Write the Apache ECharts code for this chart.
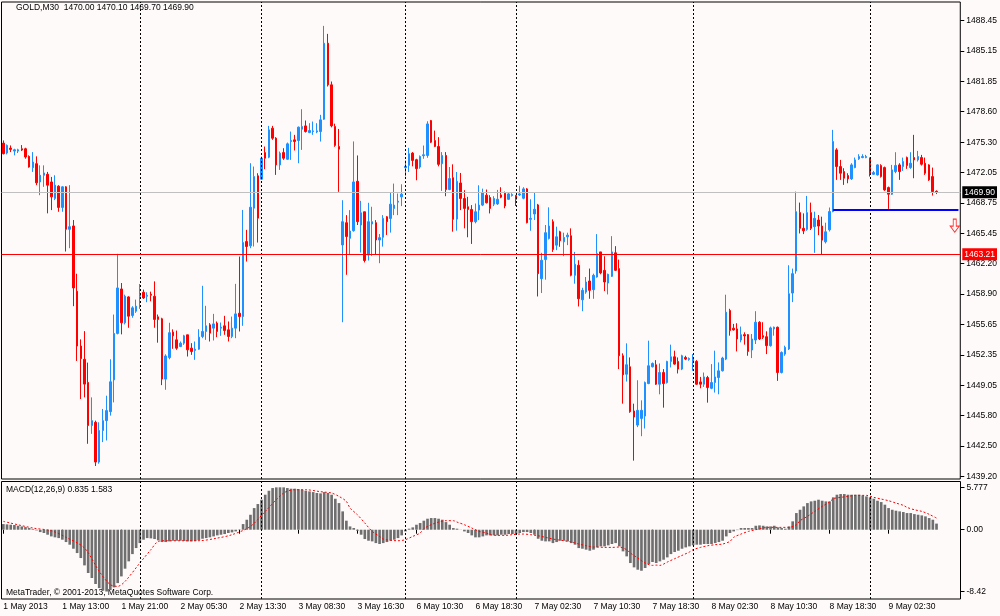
<!DOCTYPE html>
<html>
<head>
<meta charset="utf-8">
<title>GOLD,M30</title>
<script src="https://cdn.jsdelivr.net/npm/echarts@6/dist/echarts.min.js"></script>
<style>
  html, body { margin: 0; padding: 0; background: #fffafa; }
  #chart { width: 1000px; height: 616px; }
</style>
</head>
<body>
<div id="chart"></div>
<script>
// --- data (bar index 0 = first visible M30 bar) ---
const opens = [
  1475.20,1474.13,1474.66,1474.34,1474.34,1474.59,1474.59,1473.77,1472.55,1472.98,
  1471.01,1471.73,1471.84,1471.01,1469.23,1470.55,1468.26,1470.48,1465.90,1466.26,
  1459.21,1453.30,1451.87,1449.37,1444.72,1445.07,1440.78,1444.18,1445.25,1446.22,
  1449.65,1454.66,1459.46,1455.81,1458.60,1456.60,1457.06,1458.67,1459.10,1458.67,
  1458.89,1458.67,1456.45,1456.24,1449.73,1452.05,1454.80,1453.97,1453.25,1453.61,
  1454.51,1453.07,1452.82,1452.96,1454.33,1454.87,1455.59,1455.23,1455.77,1455.23,
  1455.48,1455.05,1454.33,1455.23,1456.84,1456.48,1464.58,1464.11,1468.18,1471.67,
  1471.31,1474.18,1473.68,1476.81,1475.73,1472.85,1474.18,1473.46,1475.37,1475.55,
  1475.48,1476.70,1477.06,1476.34,1476.45,1476.41,1476.45,1477.78,1485.98,1481.49,
  1477.00,1474.84,1464.21,1466.61,1464.93,1465.75,1471.08,1466.36,1467.79,1463.14,
  1466.47,1466.61,1464.75,1465.04,1467.25,1467.07,1468.15,1468.83,1469.40,1472.55,
  1472.80,1474.12,1473.41,1472.62,1473.84,1473.87,1477.63,1475.48,1474.84,1472.98,
  1473.87,1470.19,1471.47,1467.00,1470.90,1469.22,1468.33,1468.04,1466.72,1467.97,
  1468.51,1469.58,1469.33,1468.61,1468.64,1469.61,1469.79,1469.14,1469.54,1469.54,
  1469.61,1469.25,1470.26,1466.97,1467.55,1468.53,1460.57,1462.63,1464.91,1466.72,
  1464.19,1465.63,1464.55,1465.09,1465.20,1460.93,1462.02,1458.29,1459.12,1460.32,
  1459.38,1460.75,1463.46,1461.47,1460.10,1460.82,1463.36,1461.66,1452.25,1450.26,
  1451.06,1446.29,1444.77,1445.49,1445.74,1449.25,1451.06,1451.28,1449.18,1450.44,
  1449.36,1451.64,1452.14,1451.64,1450.81,1452.07,1451.85,1451.64,1451.64,1449.43,
  1449.18,1449.90,1448.74,1449.36,1449.90,1450.63,1451.89,1457.13,1455.22,1455.15,
  1453.95,1454.53,1454.53,1452.87,1453.95,1455.87,1454.42,1454.31,1453.34,1455.15,
  1455.33,1450.44,1452.43,1452.98,1459.02,1461.40,1467.70,1466.00,1465.89,1467.70,
  1466.18,1466.90,1466.25,1464.55,1465.84,1467.81,1474.47,1472.67,1472.13,1471.70,
  1471.34,1472.56,1473.50,1473.64,1473.64,1473.57,1471.84,1471.77,1472.78,1472.56,
  1470.40,1469.68,1472.13,1472.85,1472.67,1473.64,1472.56,1473.64,1473.39,1473.64,
  1473.03,1472.85,1471.59,1470.00
];
const highs = [
  1475.49,1475.06,1474.95,1474.59,1474.59,1474.99,1474.70,1473.88,1474.23,1473.77,
  1472.80,1472.80,1472.09,1471.55,1471.73,1470.66,1470.55,1470.55,1470.66,1466.90,
  1461.10,1454.02,1454.91,1451.51,1447.76,1445.25,1445.07,1446.51,1447.94,1451.87,
  1456.70,1463.25,1460.10,1458.85,1458.67,1457.60,1458.31,1460.00,1459.39,1459.10,
  1459.17,1460.28,1456.70,1456.35,1452.41,1455.81,1455.10,1454.97,1453.79,1454.51,
  1454.51,1453.61,1453.79,1455.12,1459.80,1457.64,1455.77,1456.77,1455.95,1455.84,
  1456.56,1455.95,1456.48,1460.01,1462.96,1467.99,1465.84,1473.03,1472.67,1471.95,
  1473.75,1474.83,1477.06,1477.06,1475.84,1474.29,1474.65,1475.26,1476.45,1476.09,
  1476.99,1478.86,1477.64,1477.35,1477.53,1477.35,1478.25,1487.85,1486.99,1481.85,
  1477.30,1476.73,1469.04,1467.43,1467.97,1475.38,1473.87,1468.97,1467.79,1468.76,
  1468.33,1466.89,1465.39,1467.43,1467.32,1469.83,1470.83,1469.76,1470.76,1473.33,
  1474.69,1474.23,1473.51,1473.87,1474.94,1477.56,1477.70,1476.55,1475.84,1474.23,
  1474.23,1472.62,1472.91,1472.08,1471.98,1470.12,1469.40,1468.51,1468.68,1470.65,
  1470.29,1470.19,1469.58,1469.47,1470.15,1470.44,1469.97,1469.87,1469.79,1469.61,
  1470.59,1470.44,1470.34,1469.14,1469.90,1468.64,1463.36,1466.36,1468.27,1466.97,
  1466.18,1465.74,1465.53,1465.53,1466.00,1463.46,1462.56,1459.59,1460.75,1461.66,
  1461.11,1465.38,1463.46,1462.99,1461.11,1465.16,1464.08,1462.63,1452.51,1453.59,
  1452.07,1447.08,1449.61,1447.44,1449.47,1453.88,1451.53,1451.78,1451.42,1450.81,
  1451.71,1453.45,1452.80,1452.07,1452.36,1452.25,1452.07,1452.43,1451.78,1449.97,
  1450.44,1450.08,1451.35,1452.80,1451.53,1452.14,1458.84,1457.32,1455.69,1455.76,
  1455.40,1454.78,1454.60,1454.60,1457.06,1455.98,1455.87,1454.89,1455.40,1455.40,
  1455.40,1452.72,1453.34,1462.02,1461.66,1469.97,1468.78,1467.62,1469.50,1468.78,
  1467.80,1467.44,1467.26,1466.61,1468.25,1476.63,1474.65,1473.39,1472.49,1471.95,
  1473.03,1473.64,1474.00,1474.00,1473.93,1473.64,1472.20,1472.92,1472.92,1472.67,
  1470.51,1472.85,1474.22,1473.03,1473.64,1473.75,1474.22,1476.09,1474.36,1473.93,
  1473.64,1472.92,1472.56,1470.10
];
const lows = [
  1473.98,1473.98,1474.23,1473.88,1474.13,1474.34,1473.52,1472.55,1472.09,1470.66,
  1469.58,1470.48,1467.62,1467.97,1469.05,1467.79,1467.79,1463.50,1463.86,1457.60,
  1451.69,1447.58,1447.76,1442.75,1443.82,1440.35,1440.60,1442.93,1443.11,1445.79,
  1447.22,1454.56,1454.56,1455.63,1455.27,1456.35,1456.88,1457.31,1458.38,1458.03,
  1458.13,1455.27,1453.66,1449.08,1448.58,1451.87,1453.00,1452.89,1453.18,1453.43,
  1452.17,1452.35,1451.81,1452.89,1454.15,1453.97,1453.79,1453.90,1454.26,1454.40,
  1454.51,1453.79,1454.15,1454.15,1454.87,1455.48,1462.42,1463.86,1464.04,1464.47,
  1471.23,1472.38,1473.57,1475.55,1471.77,1472.31,1473.39,1473.39,1473.39,1474.40,
  1473.03,1474.47,1476.34,1476.27,1476.09,1476.27,1475.37,1477.71,1481.31,1476.90,
  1474.80,1469.94,1455.87,1460.99,1463.14,1465.64,1466.36,1463.39,1462.32,1462.53,
  1463.03,1463.14,1462.24,1464.03,1465.29,1465.54,1467.43,1467.43,1468.40,1471.62,
  1472.08,1472.69,1471.19,1472.44,1473.51,1473.62,1475.20,1474.77,1472.69,1470.04,
  1469.47,1470.12,1465.64,1465.75,1467.97,1466.00,1465.04,1464.32,1466.54,1466.89,
  1468.40,1468.69,1467.61,1468.40,1468.53,1469.25,1468.17,1469.07,1469.43,1468.42,
  1469.50,1469.14,1466.54,1465.74,1466.90,1458.65,1459.02,1460.46,1464.80,1463.46,
  1463.65,1464.01,1463.00,1464.19,1460.82,1460.03,1457.57,1457.06,1458.94,1458.40,
  1458.40,1460.68,1461.04,1459.23,1458.87,1460.75,1461.40,1450.81,1447.08,1449.47,
  1446.10,1440.93,1444.55,1443.57,1444.40,1449.18,1450.99,1449.11,1448.09,1446.65,
  1449.25,1450.99,1451.28,1450.34,1450.70,1451.78,1451.71,1450.63,1449.11,1448.74,
  1448.89,1447.19,1448.64,1448.28,1448.09,1450.55,1451.78,1454.42,1454.97,1452.72,
  1453.70,1453.45,1452.25,1452.00,1453.52,1453.95,1454.06,1452.43,1453.23,1454.42,
  1449.54,1450.34,1452.25,1452.87,1458.04,1461.11,1465.45,1465.38,1465.74,1465.82,
  1463.36,1465.27,1463.21,1464.37,1465.66,1467.74,1471.23,1471.23,1470.69,1470.87,
  1471.23,1472.49,1473.39,1473.57,1473.57,1471.59,1471.77,1471.70,1471.48,1470.05,
  1468.10,1469.61,1471.95,1471.23,1472.20,1472.42,1472.42,1471.41,1473.21,1472.78,
  1471.77,1471.12,1469.54,1469.70
];
const closes = [
  1474.06,1474.95,1474.52,1474.48,1474.48,1474.45,1473.70,1472.62,1473.16,1470.91,
  1471.73,1471.98,1470.66,1469.40,1470.66,1468.26,1470.48,1465.90,1466.18,1459.57,
  1453.30,1451.94,1449.19,1444.72,1445.25,1440.78,1444.18,1445.25,1446.33,1449.44,
  1454.66,1459.57,1455.81,1458.67,1456.52,1457.42,1457.60,1458.85,1458.49,1458.78,
  1458.78,1456.17,1456.17,1449.73,1452.23,1454.74,1454.40,1453.07,1453.61,1454.40,
  1452.89,1452.71,1452.96,1454.26,1454.87,1455.48,1454.69,1455.69,1454.87,1455.33,
  1454.97,1454.33,1455.23,1456.77,1456.48,1464.47,1464.04,1468.28,1471.59,1467.10,
  1473.57,1473.57,1476.63,1475.73,1472.85,1474.11,1473.57,1475.12,1475.48,1475.37,
  1476.92,1476.99,1476.45,1476.56,1476.52,1476.52,1477.71,1485.98,1481.49,1477.06,
  1474.95,1474.55,1466.72,1465.11,1465.71,1471.01,1466.72,1467.68,1462.53,1466.72,
  1466.72,1464.75,1465.00,1467.07,1466.72,1468.61,1468.51,1468.93,1469.69,1472.69,
  1474.05,1473.33,1472.44,1473.76,1473.94,1477.27,1475.30,1474.84,1472.91,1473.87,
  1470.19,1471.37,1466.97,1471.08,1469.22,1468.15,1468.04,1466.72,1467.79,1468.51,
  1469.83,1468.76,1468.15,1469.22,1469.14,1469.36,1468.42,1469.72,1469.65,1469.14,
  1469.72,1470.26,1466.61,1467.08,1468.06,1461.11,1462.56,1465.53,1466.25,1463.72,
  1465.09,1464.66,1465.02,1465.27,1460.93,1462.13,1458.40,1459.31,1460.21,1459.31,
  1460.93,1463.28,1461.19,1460.21,1461.04,1463.46,1461.47,1452.25,1450.19,1451.28,
  1446.21,1445.64,1446.36,1446.36,1449.36,1451.17,1451.42,1449.18,1450.44,1449.25,
  1451.64,1452.14,1451.35,1450.81,1452.25,1451.89,1451.96,1451.89,1449.18,1449.18,
  1449.97,1448.82,1449.36,1449.97,1450.62,1452.00,1456.95,1454.97,1455.04,1454.06,
  1454.53,1454.39,1452.72,1454.06,1455.87,1454.06,1454.24,1453.34,1455.26,1455.33,
  1450.44,1452.61,1453.16,1458.94,1461.11,1467.80,1466.00,1465.74,1467.70,1466.00,
  1467.08,1466.25,1464.73,1465.63,1467.81,1475.37,1472.67,1471.95,1471.41,1471.34,
  1472.85,1473.39,1473.75,1473.75,1473.75,1471.95,1472.02,1472.85,1471.59,1470.15,
  1469.68,1472.31,1472.78,1472.13,1473.21,1472.78,1473.03,1473.39,1473.75,1472.92,
  1471.95,1471.23,1469.97,1469.90
];

// MACD(12,26,9) main histogram, one value per bar
const macdMain = [
  0.77,0.73,0.68,0.64,0.54,0.45,0.36,0.23,0.09,-0.09,
  -0.32,-0.45,-0.68,-0.91,-1.04,-1.14,-1.36,-1.68,-2.04,-2.59,
  -3.18,-3.86,-4.86,-5.90,-6.58,-7.40,-7.95,-8.31,-8.42,-8.22,
  -7.86,-7.27,-6.36,-5.31,-4.31,-3.32,-2.50,-1.82,-1.36,-1.14,
  -1.18,-1.27,-1.45,-1.68,-1.68,-1.59,-1.50,-1.50,-1.50,-1.55,
  -1.59,-1.59,-1.55,-1.45,-1.23,-1.14,-1.04,-0.91,-0.77,-0.68,
  -0.59,-0.45,-0.36,-0.23,-0.05,0.77,1.36,2.04,2.95,3.50,
  4.09,4.77,5.31,5.68,5.77,5.777,5.77,5.68,5.59,5.59,
  5.54,5.45,5.31,5.22,5.13,5.00,4.95,5.13,5.00,4.77,
  4.22,3.63,2.50,1.23,0.45,0.23,-0.14,-0.68,-1.27,-1.50,
  -1.59,-1.82,-1.95,-1.82,-1.68,-1.50,-1.36,-1.14,-0.77,-0.23,
  0.14,0.32,0.68,0.91,1.23,1.50,1.59,1.59,1.50,1.36,
  1.04,0.68,0.23,0.14,0.02,-0.23,-0.45,-0.77,-1.04,-1.04,
  -0.91,-0.77,-0.77,-0.77,-0.77,-0.68,-0.68,-0.59,-0.59,-0.59,
  -0.45,-0.32,-0.32,-0.45,-0.68,-1.23,-1.50,-1.59,-1.59,-1.82,
  -1.68,-1.50,-1.50,-1.59,-1.82,-2.04,-2.50,-2.59,-2.72,-2.86,
  -2.72,-2.41,-2.27,-2.27,-2.13,-1.95,-1.82,-2.27,-2.95,-3.63,
  -4.54,-5.13,-5.45,-5.59,-5.22,-4.68,-4.40,-4.54,-4.31,-4.09,
  -3.77,-3.32,-3.04,-2.86,-2.59,-2.41,-2.27,-2.13,-2.04,-2.04,
  -1.95,-1.95,-1.95,-1.82,-1.68,-1.50,-0.91,-0.45,-0.23,-0.05,
  0.23,0.23,0.23,0.23,0.54,0.59,0.54,0.45,0.45,0.54,
  0.32,0.23,0.14,0.45,1.14,2.27,2.72,3.18,3.63,3.86,
  3.95,4.09,3.95,3.86,3.86,4.41,4.77,4.86,4.86,4.77,
  4.77,4.77,4.77,4.68,4.54,4.41,4.22,3.95,3.77,3.41,
  2.95,2.72,2.59,2.50,2.41,2.27,2.27,2.13,2.04,1.95,
  1.82,1.59,1.36,0.835
];

// signal line, read at the bars where it could be made out
const signalAt = [
  0,8,13,17,22,26,29,31,33,37,40,42,44,49,53,58,62,67,71,76,79,82,86,
  87,89,91,93,94,96,98,100,102,103,105,107,109,111,113,114,116,118,120,122,
  123,125,127,129,131,132,134,136,138,140,141,143,145,147,149,150,152,154,156,
  158,160,161,163,165,167,169,170,172,174,176,177,178,180,182,184,186,187,189,
  191,193,195,197,198,200,202,204,206,207,209,211,213,215,216,218,220,222,224,
  225,227,229,231,233,234,236,238,240,242,244,245,247,249,251,253
];
const signalVal = [
  1.14,0.23,-0.14,-1.04,-2.50,-5.68,-7.49,-7.72,-7.04,-4.54,-2.72,-1.59,-1.50,-1.50,-1.50,-1.14,-0.68,0.45,2.50,5.00,5.45,5.45,5.18,
  5.13,5.00,4.54,3.86,2.95,2.04,0.91,-0.23,-0.91,-1.27,-1.45,-1.50,-1.36,-0.91,-0.45,0.14,0.68,1.04,1.23,1.23,
  1.04,0.68,0.23,-0.23,-0.45,-0.68,-0.77,-0.77,-0.68,-0.59,-0.59,-0.68,-0.82,-1.04,-1.27,-1.36,-1.50,-1.68,-1.95,
  -2.18,-2.36,-2.36,-2.41,-2.41,-2.36,-2.72,-3.18,-3.86,-4.54,-4.86,-4.82,-4.86,-4.41,-3.95,-3.50,-3.04,-2.72,-2.41,
  -2.18,-2.04,-1.95,-1.59,-1.04,-0.59,-0.23,0.00,0.23,0.32,0.32,0.32,0.32,0.68,1.23,1.82,2.50,3.18,3.77,
  4.22,4.41,4.54,4.68,4.68,4.68,4.41,4.18,3.95,3.63,3.32,3.04,2.72,2.50,2.10,1.583
];

const barCount = 260;                       // slots on the time axis (chart shifted right)
const xTickLabels = ['1 May 2013','1 May 13:00','1 May 21:00','2 May 05:30','2 May 13:30',
  '3 May 08:30','3 May 16:30','6 May 10:30','6 May 18:30','7 May 02:30','7 May 10:30',
  '7 May 18:30','8 May 02:30','8 May 10:30','8 May 18:30','9 May 02:30'];
const xTickStep = 16;
const daySeparators = [37, 70, 109, 139, 187, 235];

const yTicks = [1439.20,1442.50,1445.80,1449.05,1452.35,1455.65,1458.90,1462.20,
  1465.45,1468.75,1472.05,1475.30,1478.60,1481.85,1485.15,1488.45];
const macdTicks = [-8.42, 0, 5.777];
const macdTickText = ['-8.42', '0.00', '5.777'];

const bidPrice = 1469.90;
const levelPrice = 1463.21;
const trendPrice = 1468.03;
const trendFrom = 225;
const sellArrow = [258, 1466.30];

const titleText = 'GOLD,M30  1470.00 1470.10 1469.70 1469.90';
const macdText = 'MACD(12,26,9) 0.835 1.583';
const copyText = 'MetaTrader, \u00a9 2001-2013, MetaQuotes Software Corp.';

// --- build ---
const FONT = 'Liberation Sans';
const FS = 8.5;
const cats = Array.from({ length: barCount }, (_, i) => String(i));
const candleData = opens.map((o, i) => [o, closes[i], lows[i], highs[i]]);
const signalData = signalAt.map((x, i) => [x, signalVal[i]]);

const sepLine = { color: '#000', type: [2, 2], width: 1 };
const separatorMarks = daySeparators.map(i => ({ xAxis: i, lineStyle: sepLine, label: { show: false } }));

// only the bars that carry a time label get a tick / label
const isTickBar = idx => idx % xTickStep === 0 && idx / xTickStep < xTickLabels.length;

function priceTag(bg) {
  return {
    show: true, position: 'end', distance: 2,
    formatter: p => p.value.toFixed(2),
    backgroundColor: bg, color: '#fff', padding: [2, 2, 1, 2],
    fontSize: FS, fontFamily: FONT
  };
}

const chart = echarts.init(document.getElementById('chart'), null, { renderer: 'canvas' });

chart.setOption({
  animation: false,
  backgroundColor: '#fffafa',
  grid: [
    { left: 1.5, right: 39.5, top: 2, height: 477, show: true, borderColor: '#000', borderWidth: 1, backgroundColor: 'transparent' },
    { left: 1.5, right: 39.5, top: 481.5, height: 117.5, show: true, borderColor: '#000', borderWidth: 1, backgroundColor: 'transparent' }
  ],
  xAxis: [
    {
      type: 'category', gridIndex: 0, data: cats, boundaryGap: true,
      axisLine: { show: false }, axisTick: { show: false }, axisLabel: { show: false }, splitLine: { show: false }
    },
    {
      type: 'category', gridIndex: 1, data: cats, boundaryGap: true,
      axisLine: { show: false },
      axisTick: { show: true, interval: isTickBar, alignWithLabel: true, length: 4, lineStyle: { color: '#000' } },
      axisLabel: {
        interval: isTickBar, align: 'left', margin: 3,
        fontSize: FS, fontFamily: FONT, color: '#000',
        formatter: (v, idx) => xTickLabels[idx / xTickStep] || ''
      },
      splitLine: { show: false }
    }
  ],
  yAxis: [
    {
      type: 'value', gridIndex: 0, position: 'right', min: 1438.95, max: 1490.43,
      axisLine: { show: false }, splitLine: { show: false },
      axisTick: { show: true, customValues: yTicks, length: 4, lineStyle: { color: '#000' } },
      axisLabel: { customValues: yTicks, margin: 6, fontSize: FS, fontFamily: FONT, color: '#000', formatter: v => v.toFixed(2) }
    },
    {
      type: 'value', gridIndex: 1, position: 'right', min: -9.44, max: 6.57,
      axisLine: { show: false }, splitLine: { show: false },
      axisTick: { show: true, customValues: macdTicks, length: 4, lineStyle: { color: '#000' } },
      axisLabel: {
        customValues: macdTicks, margin: 6, fontSize: FS, fontFamily: FONT, color: '#000',
        formatter: v => macdTickText[macdTicks.indexOf(v)] ?? String(v)
      }
    }
  ],
  graphic: [
    { type: 'text', left: 16, top: 3, silent: true, style: { text: titleText, fill: '#000', font: FS + 'px "' + FONT + '"' } },
    { type: 'text', left: 6, top: 485.5, silent: true, style: { text: macdText, fill: '#000', font: FS + 'px "' + FONT + '"' } },
    { type: 'text', left: 6, top: 588, silent: true, style: { text: copyText, fill: '#000', font: FS + 'px "' + FONT + '"' } }
  ],
  series: [
    {
      name: 'GOLD,M30', type: 'candlestick', xAxisIndex: 0, yAxisIndex: 0,
      data: candleData, barWidth: 2,
      itemStyle: { color: '#1e90ff', color0: '#ff0000', borderColor: '#1e90ff', borderColor0: '#ff0000', borderWidth: 1 },
      markLine: {
        silent: true, symbol: ['none', 'none'], animation: false,
        data: [
          ...separatorMarks,
          { yAxis: bidPrice, lineStyle: { color: '#c0c0c0', type: 'solid', width: 1 }, label: priceTag('#000') },
          { yAxis: levelPrice, lineStyle: { color: '#ff0000', type: 'solid', width: 1 }, label: priceTag('#ff0000') },
          [
            { coord: [trendFrom, trendPrice], lineStyle: { color: '#0000ff', type: 'solid', width: 2 }, label: { show: false } },
            { coord: [barCount - 1, trendPrice], lineStyle: { color: '#0000ff', type: 'solid', width: 2 }, label: { show: false } }
          ]
        ]
      }
    },
    {
      name: 'sell', type: 'scatter', xAxisIndex: 0, yAxisIndex: 0, silent: true,
      data: [sellArrow],
      symbol: 'path://M3,0 L6,0 L6,7 L9,7 L4.5,13 L0,7 L3,7 Z',
      symbolSize: [9, 13],
      itemStyle: { color: '#fffafa', borderColor: '#ff0000', borderWidth: 1 }
    },
    {
      name: 'MACD', type: 'bar', xAxisIndex: 1, yAxisIndex: 1,
      data: macdMain, barWidth: '72%',
      itemStyle: { color: '#6f6f6f' },
      markLine: {
        silent: true, symbol: ['none', 'none'], animation: false,
        data: separatorMarks
      }
    },
    {
      name: 'Signal', type: 'line', xAxisIndex: 1, yAxisIndex: 1,
      data: signalData, smooth: 0.3, showSymbol: false, symbol: 'none',
      lineStyle: { color: '#ff0000', width: 1, type: [2, 2] }
    }
  ]
});
</script>
</body>
</html>
